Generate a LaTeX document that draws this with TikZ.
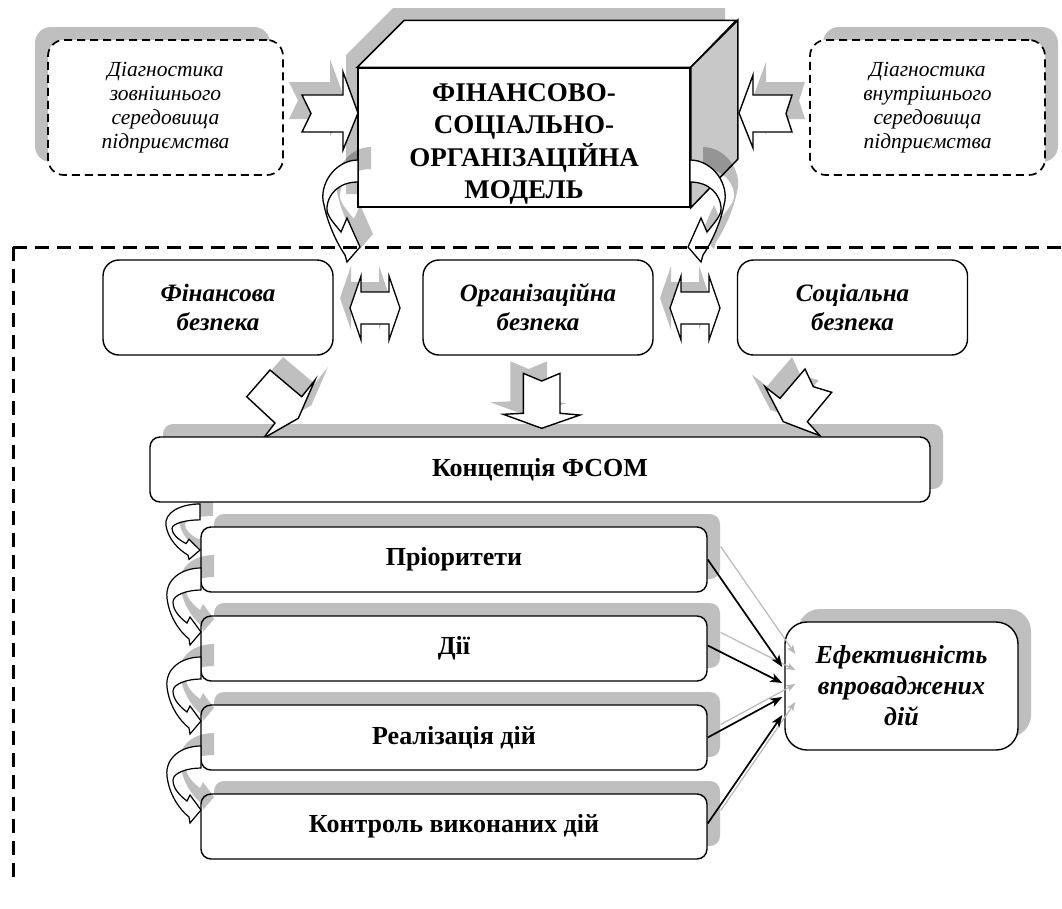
\documentclass[tikz,border=0pt]{standalone}
\usepackage{fontspec}
\setmainfont{Liberation Serif}
\usetikzlibrary{shadows,calc,arrows.meta}
\definecolor{shd}{RGB}{191,191,191}
\definecolor{face}{RGB}{200,200,200}
\definecolor{lgray}{RGB}{185,185,185}
\tikzset{
  boxline/.style={draw, line width=1.4pt},
  diagbox/.style={draw, line width=1.7pt, dash pattern=on 8pt off 5pt, rounded corners=16pt, fill=white, minimum width=235pt, minimum height=135pt, align=center, inner sep=0pt, font=\fontsize{21.5pt}{24pt}\selectfont\itshape},
  secbox/.style={boxline, rounded corners=16pt, fill=white, minimum width=230pt, minimum height=95pt, align=center, inner sep=0pt, font=\fontsize{25pt}{29pt}\selectfont\bfseries\itshape},
  stepbox/.style={boxline, rounded corners=10pt, fill=white, minimum height=65pt, inner sep=0pt, font=\fontsize{26pt}{30pt}\selectfont\bfseries},
  effbox/.style={boxline, rounded corners=22pt, fill=white, minimum width=233pt, minimum height=128pt, align=center, inner sep=0pt, font=\fontsize{26pt}{31pt}\selectfont\bfseries\itshape},
  modelbox/.style={boxline, line width=1.5pt, fill=white, minimum width=332pt, minimum height=139pt, inner sep=0pt},
  modeltext/.style={align=center, inner sep=0pt, font=\fontsize{27pt}{32.3pt}\selectfont\bfseries},
  shadowUR/.style={drop shadow={shadow xshift=13pt, shadow yshift=13pt, fill=shd, opacity=1}},
  shadowUL/.style={drop shadow={shadow xshift=-13pt, shadow yshift=13pt, fill=shd, opacity=1}},
  blockarrow/.style={draw, line width=1.4pt, fill=white},
  blockshadow/.style={fill=shd},
  blkconn/.style={draw, line width=1.7pt, -{Stealth[length=12pt,width=9pt,inset=3pt]}},
  grayconn/.style={draw=lgray, line width=1.2pt, -{Stealth[length=9pt,width=7pt,inset=2pt]}},
  frameline/.style={line width=3pt, dash pattern=on 14pt off 8pt},
  pics/bigcurve/.style={code={\path[#1] (0,0) .. controls (-23,0) and (-40,25) .. (-34,45) .. controls (-30,65) and (-20,85) .. (-13,95) -- (-11,102) -- (2,87) -- (-11,58) -- (-17,72) .. controls (-25,62) and (-32,55) .. (-31,47) .. controls (-30,35) and (-20,22) .. (0,22) -- cycle;}},
  pics/smallcurve/.style={code={\path[#1] (0,0) .. controls (-20,0) and (-36,12) .. (-34,30) .. controls (-32,48) and (-22,63) .. (-12,71) -- (-11,77) -- (0,64) -- (-11,49) -- (-14,55) .. controls (-22,49) and (-28,42) .. (-28,34) .. controls (-28,27) and (-14,22) .. (0,22) -- cycle;}},
  pics/dblarrow/.style={code={\path[#1] (-25,0) -- (-14,-32) -- (-14,-16) -- (14,-16) -- (14,-32) -- (25,0) -- (14,32) -- (14,16) -- (-14,16) -- (-14,32) -- cycle;}},
}
\begin{document}
\begin{tikzpicture}[x=1pt,y=-1pt]
\useasboundingbox (0,0) rectangle (1062,908);
\fill[white] (0,0) rectangle (1062,908);

% diagnostic boxes
\node[diagbox, shadowUL] (diagL) at (165.5,107.5) {Діагностика\\зовнішнього\\середовища\\підприємства};
\node[diagbox, shadowUR] (diagR) at (927.5,107.5) {Діагностика\\внутрішнього\\середовища\\підприємства};

% central 3D box
\fill[shd] (346,55) -- (393,8) -- (725,8) -- (725,147) -- (678,194) -- (346,194) -- cycle;
\node[modelbox] (model) at (524,137.5) {};
\draw[line width=1.5pt, fill=white] (model.north west) -- ++(47,-47) -- ++(332,0) -- (model.north east) -- cycle;
\draw[line width=1.5pt, fill=face] (model.north east) -- ++(47,-47) -- ++(0,139) -- (model.south east) -- cycle;
\node[modeltext] (modeltxt) at (524,144) {ФІНАНСОВО-\\СОЦІАЛЬНО-\\ОРГАНІЗАЦІЙНА\\МОДЕЛЬ};

% notched arrows into the model
\fill[blockshadow, shift={(-13,-13)}] (302,95) -- (343,95) -- (343,72) -- (358,113) -- (343,150) -- (343,132) -- (302,132) -- (311,113.5) -- cycle;
\path[blockarrow] (302,95) -- (343,95) -- (343,72) -- (358,113) -- (343,150) -- (343,132) -- (302,132) -- (311,113.5) -- cycle;
\fill[blockshadow, shift={(13,-13)}] (792,95) -- (753,95) -- (753,75) -- (739,113) -- (753,148) -- (753,132) -- (792,132) -- (786,113.5) -- cycle;
\path[blockarrow] (792,95) -- (753,95) -- (753,75) -- (739,113) -- (753,148) -- (753,132) -- (792,132) -- (786,113.5) -- cycle;

% big curved arrows
\pic at (371,147) {bigcurve={fill=black,opacity=.25}};
\pic at (358,160) {bigcurve={draw,line width=1.3pt,fill=white}};
\pic[xscale=-1] at (703,147) {bigcurve={fill=black,opacity=.25}};
\pic[xscale=-1] at (690,160) {bigcurve={draw,line width=1.3pt,fill=white}};

% dashed frame
\draw[frameline] (13,247) -- (1062,247);
\draw[frameline] (13,247) -- (13,880);

% security boxes
\node[secbox] (fin) at (218,307.5) {Фінансова\\безпека};
\node[secbox] (org) at (538,307.5) {Організаційна\\безпека};
\node[secbox] (soc) at (852.5,307.5) {Соціальна\\безпека};

% double arrows
\pic at (365,298) {dblarrow={fill=shd}};
\pic at (375,308) {dblarrow={draw,line width=1.3pt,fill=white}};
\pic at (685,298) {dblarrow={fill=shd}};
\pic at (695,308) {dblarrow={draw,line width=1.3pt,fill=white}};

% concept box shadow first
\fill[shd, rounded corners=10pt] (163,424) rectangle (943,489);
\pic[yscale=0.72] at (213,500) {smallcurve={fill=black,opacity=.25}};

% block arrows into concept
\fill[blockshadow, shift={(13,-13)}] (270,370) -- (301.7,396.7) -- (315,380) -- (298.3,418.3) -- (263.3,438.3) -- (275,423) -- (246.7,396.7) -- cycle;
\path[blockarrow] (270,370) -- (301.7,396.7) -- (315,380) -- (298.3,418.3) -- (263.3,438.3) -- (275,423) -- (246.7,396.7) -- cycle;
\fill[blockshadow, shift={(-13,-12)}] (523.3,373.3) -- (541.7,381) -- (560,373.3) -- (560,413.3) -- (580,415) -- (541.7,428.3) -- (503.3,414.3) -- (523.3,413.3) -- cycle;
\path[blockarrow] (523.3,373.3) -- (541.7,381) -- (560,373.3) -- (560,413.3) -- (580,415) -- (541.7,428.3) -- (503.3,414.3) -- (523.3,413.3) -- cycle;
\fill[blockshadow, shift={(-13,-12)}] (765,386.7) -- (780,398.3) -- (805,369) -- (813.3,386.7) -- (831.7,392.3) -- (807.3,421.7) -- (820,435.7) -- (783.3,421.7) -- cycle;
\path[blockarrow] (765,386.7) -- (780,398.3) -- (805,369) -- (813.3,386.7) -- (831.7,392.3) -- (807.3,421.7) -- (820,435.7) -- (783.3,421.7) -- cycle;

\node[stepbox, minimum width=780pt] (conc) at (540,469.5) {Концепція ФСОМ};

% steps
\node[stepbox, shadowUR, minimum width=506pt] (prio) at (454,559.5) {Пріоритети};
\node[stepbox, shadowUR, minimum width=506pt] (dii) at (454,648.5) {Дії};
\node[stepbox, shadowUR, minimum width=506pt] (real) at (454,737.5) {Реалізація дій};
\node[stepbox, shadowUR, minimum width=506pt] (kontr) at (454,826.5) {Контроль виконаних дій};

\node[effbox, shadowUR] (eff) at (901.5,686) {Ефективність\\впроваджених\\дій};

% connectors
\draw[grayconn] ($(prio.east)+(13,-13)$) -- ($(eff.west)+(11,-32)$);
\draw[grayconn] ($(dii.east)+(13,-16)$) -- ($(eff.west)+(11,-16)$);
\draw[grayconn] ($(real.east)+(13,-13)$) -- ($(eff.west)+(11,-2)$);
\draw[grayconn] ($(kontr.east)+(13,-16)$) -- ($(eff.west)+(11,16)$);
\draw[blkconn] (prio.east) -- ($(eff.west)+(-2,-19)$);
\draw[blkconn] ($(dii.east)+(0,-3)$) -- ($(eff.west)+(-2,-3)$);
\draw[blkconn] (real.east) -- ($(eff.west)+(-2,11)$);
\draw[blkconn] ($(kontr.east)+(0,-3)$) -- ($(eff.west)+(-2,29)$);

% small curved arrows
\pic[yscale=0.72] at (200,504) {smallcurve={draw,line width=1.2pt,fill=white}};
\pic at (214,555) {smallcurve={fill=black,opacity=.25}};
\pic at (201,568) {smallcurve={draw,line width=1.2pt,fill=white}};
\pic at (214,644) {smallcurve={fill=black,opacity=.25}};
\pic at (201,657) {smallcurve={draw,line width=1.2pt,fill=white}};
\pic at (214,733) {smallcurve={fill=black,opacity=.25}};
\pic at (201,746) {smallcurve={draw,line width=1.2pt,fill=white}};
\end{tikzpicture}
\end{document}
